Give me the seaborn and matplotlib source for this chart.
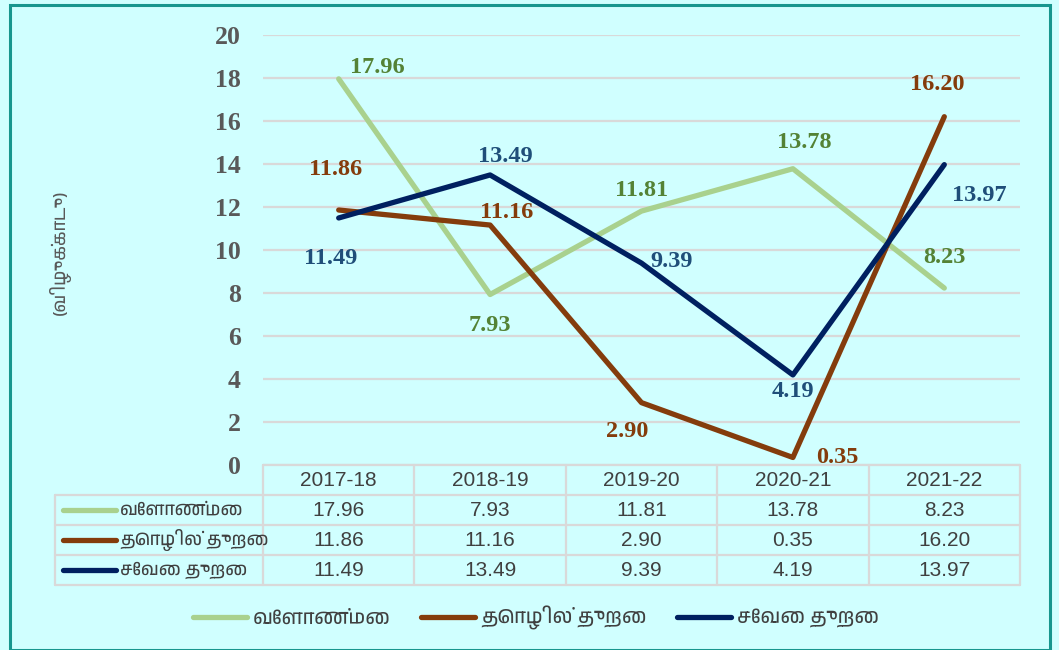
import matplotlib
matplotlib.use("Agg")
import matplotlib.pyplot as plt
from matplotlib import font_manager
from matplotlib.lines import Line2D
from matplotlib.patches import Rectangle
import pandas as pd
import seaborn as sns

years = ["2017-18", "2018-19", "2019-20", "2020-21", "2021-22"]
agri = [17.96, 7.93, 11.81, 13.78, 8.23]
industry = [11.86, 11.16, 2.90, 0.35, 16.20]
services = [11.49, 13.49, 9.39, 4.19, 13.97]
sectors = ["வேளாண்மை", "தொழில் துறை", "சேவை துறை"]
y_label = "(விழுக்காடு)"

line_colors = ["#A9D18E", "#843C0C", "#002060"]
text_colors = ["#548235", "#843C0C", "#1F4E79"]
# label offsets in points, one per point per series
offsets = [
    [(28, 8), (0, -22), (0, 15), (8, 19), (0, 22)],
    [(-2, 29), (12, 9), (-10, -21), (32, 0), (-5, 23)],
    [(-6, -29), (11, 13), (22, 1), (0, -12), (25, -22)],
]

BG = "#D0FFFF"
GRID = "#D9D9D9"
TICK = "#595959"
TABLE_TXT = "#404040"


def tamil_font():
    for f in font_manager.fontManager.ttflist:
        if "Tamil" in f.name or "Lohit" in f.name or "Latha" in f.name:
            return f.name
    return "Noto Sans"


sns.set_theme(style="white")
TAMIL = tamil_font()
plt.rcParams["font.family"] = [TAMIL, "DejaVu Sans"]

df = pd.DataFrame({
    "year": years * 3,
    "value": agri + industry + services,
    "sector": [s for s in sectors for _ in years],
})

fig = plt.figure(figsize=(10.59, 6.5), dpi=100)
fig.patch.set_facecolor(BG)
fig.patches.append(Rectangle((10 / 1059, 0), 1040 / 1059, 645 / 650, transform=fig.transFigure,
                             fill=False, edgecolor="#17968E", linewidth=2.2))

ax = fig.add_axes([263 / 1059, 185 / 650, 757 / 1059, 430 / 650])
ax.set_facecolor(BG)
df["x"] = df["year"].map({y: i for i, y in enumerate(years)})
sns.lineplot(data=df, x="x", y="value", hue="sector", palette=dict(zip(sectors, line_colors)),
             linewidth=3.8, legend=False, ax=ax, solid_capstyle="round")
ax.set_xlim(-0.5, 4.5)
ax.set_ylim(0, 20)
ax.set_yticks(range(0, 21, 2))
ax.set_xticks([])
ax.grid(axis="y", color=GRID, linewidth=1.6)
ax.set_axisbelow(True)
for s in ax.spines.values():
    s.set_visible(False)
ax.tick_params(axis="y", length=0, pad=16)
for t in ax.get_yticklabels():
    t.set_fontfamily("Liberation Serif")
    t.set_fontweight("bold")
    t.set_fontsize(18.5)
    t.set_color(TICK)
ax.set_xlabel("")
ax.set_ylabel("")

for vals, offs, col in zip([agri, industry, services], offsets, text_colors):
    for i, v in enumerate(vals):
        ax.annotate(f"{v:.2f}", (i, v), xytext=offs[i], textcoords="offset points",
                    ha="center", va="center", fontsize=17.5, fontweight="bold",
                    family="Liberation Serif", color=col)

fig.text(60 / 1059, 1 - 252 / 650, y_label, rotation=90, ha="center", va="center",
         fontsize=13, style="italic", color=TICK)

# data table under the chart
tax = fig.add_axes([55 / 1059, 65 / 650, 965 / 1059, 120 / 650])
tax.set_xlim(-0.5 - 208 / 151.4, 4.5)
tax.set_ylim(0, 4)
tax.axis("off")
tax.invert_yaxis()
left = -0.5 - 208 / 151.4
lw = 1.6
tax.plot([-0.5, 4.5], [0, 0], color=GRID, lw=lw, clip_on=False)
for r in range(1, 5):
    tax.plot([left, 4.5], [r, r], color=GRID, lw=lw, clip_on=False)
for c in range(6):
    tax.plot([c - 0.5, c - 0.5], [0, 4], color=GRID, lw=lw, clip_on=False)
tax.plot([left, left], [1, 4], color=GRID, lw=lw, clip_on=False)
for i, y in enumerate(years):
    tax.text(i, 0.5, y, ha="center", va="center", fontsize=15, color=TABLE_TXT,
             family="Liberation Sans")
for r, (name, vals, col) in enumerate(zip(sectors, [agri, industry, services], line_colors)):
    yy = r + 1.5
    tax.plot([left + 0.05, left + 0.4], [yy, yy], color=col, lw=3.8, solid_capstyle="round",
             clip_on=False)
    tax.text(left + 0.43, yy, name, ha="left", va="center", fontsize=13, color=TABLE_TXT)
    for i, v in enumerate(vals):
        tax.text(i, yy, f"{v:.2f}", ha="center", va="center", fontsize=15, color=TABLE_TXT,
                 family="Liberation Sans")

handles = [Line2D([], [], color=c, lw=3.8, solid_capstyle="round") for c in line_colors]
fig.legend(handles, sectors, loc="center", bbox_to_anchor=(536 / 1059, 1 - 618 / 650), ncol=3,
           frameon=False, fontsize=14.5, handlelength=2.7, handletextpad=0.3, columnspacing=1.5,
           labelcolor=TABLE_TXT)

fig.savefig("out.png", dpi=100, facecolor=BG)
